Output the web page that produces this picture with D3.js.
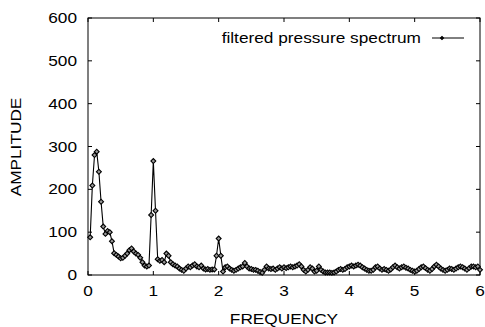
<!DOCTYPE html>
<html>
<head>
<meta charset="utf-8">
<script src="https://cdn.jsdelivr.net/npm/d3@7"></script>
<style>
  body { margin: 0; background: #fff; }
  text { font-family: "Liberation Sans", Arial, sans-serif; fill: #000; }
</style>
</head>
<body>
<svg id="chart" width="485" height="327"></svg>
<script>
// amplitude samples, one every freqStep starting at freqStep
const freqStep = 1 / 30
const amplitude = [
  88, 209, 280, 288, 241, 171, 113, 96, 103, 100,
  79, 51, 47, 43, 39, 40, 45, 50, 58, 62,
  55, 50, 47, 40, 30, 22, 20, 22, 140, 266,
  150, 37, 33, 35, 30, 50, 45, 30, 25, 22,
  20, 15, 12, 10, 15, 20, 18, 22, 25, 20,
  18, 22, 15, 13, 14, 12, 13, 13, 45, 85,
  45, 8, 18, 20, 15, 12, 10, 12, 15, 18,
  20, 28, 20, 15, 14, 12, 12, 10, 7, 5,
  12, 20, 15, 14, 15, 12, 15, 18, 15, 18,
  16, 18, 20, 18, 20, 22, 25, 20, 12, 8,
  12, 18, 15, 8, 10, 20, 12, 8, 6, 6,
  6, 5, 6, 8, 12, 14, 12, 14, 18, 20,
  22, 20, 22, 24, 22, 18, 15, 12, 10, 10,
  12, 18, 20, 15, 12, 14, 12, 10, 13, 18,
  22, 18, 15, 18, 20, 17, 15, 12, 10, 8,
  10, 14, 18, 20, 16, 12, 10, 14, 20, 24,
  20, 15, 12, 10, 12, 15, 14, 12, 15, 18,
  20, 18, 15, 12, 16, 20, 20, 18, 20, 12
]
const freqs = amplitude.map((_, i) => (i + 1) * freqStep)
const xTicks = [0, 1, 2, 3, 4, 5, 6]
const yTicks = [0, 100, 200, 300, 400, 500, 600]
const seriesName = 'filtered pressure spectrum'

const plotL = 88, plotR = 480, plotT = 18, plotB = 275
const sx = 1.15   // text in the reference is stretched sideways
const fontSize = 15

const svg = d3.select('#chart')

const x = d3.scaleLinear().domain([0, 6]).range([plotL, plotR])
const y = d3.scaleLinear().domain([0, 600]).range([plotB, plotT])

function label(px, py, str, anchor, rotate) {
  return svg.append('text')
    .attr('transform', `translate(${px},${py})` + (rotate ? ` rotate(${rotate})` : '') + ` scale(${sx},1)`)
    .attr('text-anchor', anchor)
    .style('font-size', fontSize + 'px')
    .text(str)
}

// frame
svg.append('rect')
  .attr('x', plotL).attr('y', plotT)
  .attr('width', plotR - plotL).attr('height', plotB - plotT)
  .attr('fill', 'none').attr('stroke', '#000').attr('stroke-width', 1)

// inward ticks, mirrored
const tl = 4
xTicks.forEach(t => {
  svg.append('line').attr('x1', x(t)).attr('x2', x(t)).attr('y1', plotB).attr('y2', plotB - tl).attr('stroke', '#000')
  svg.append('line').attr('x1', x(t)).attr('x2', x(t)).attr('y1', plotT).attr('y2', plotT + tl).attr('stroke', '#000')
  label(x(t), 296, t, 'middle')
})
yTicks.forEach(t => {
  svg.append('line').attr('x1', plotL).attr('x2', plotL + tl).attr('y1', y(t)).attr('y2', y(t)).attr('stroke', '#000')
  svg.append('line').attr('x1', plotR).attr('x2', plotR - tl).attr('y1', y(t)).attr('y2', y(t)).attr('stroke', '#000')
  label(77, y(t) + 5, t, 'end')
})

// axis titles
label(284, 324, 'FREQUENCY', 'middle')
label(21, 147, 'AMPLITUDE', 'middle', -90)

// series
const pts = freqs.map((f, i) => [f, amplitude[i]])
const line = d3.line().x(d => x(d[0])).y(d => y(d[1]))
svg.append('path')
  .datum(pts)
  .attr('d', line)
  .attr('fill', 'none')
  .attr('stroke', '#000')
  .attr('stroke-width', 1.1)

// diamonds = squares turned 45 degrees
const diamond = d3.symbol().type(d3.symbolSquare).size(12)
svg.append('g')
  .selectAll('path')
  .data(pts)
  .join('path')
  .attr('transform', d => `translate(${x(d[0])},${y(d[1])}) rotate(45)`)
  .attr('d', diamond)
  .attr('fill', '#999')
  .attr('stroke', '#000')
  .attr('stroke-width', 1.1)

// legend
label(421, 43, seriesName, 'end')
svg.append('line').attr('x1', 432).attr('x2', 464).attr('y1', 38).attr('y2', 38).attr('stroke', '#000')
svg.append('path')
  .attr('transform', 'translate(442,38) rotate(45)')
  .attr('d', d3.symbol().type(d3.symbolSquare).size(5))
  .attr('fill', '#000')
  .attr('stroke', '#000')
</script>
</body>
</html>
